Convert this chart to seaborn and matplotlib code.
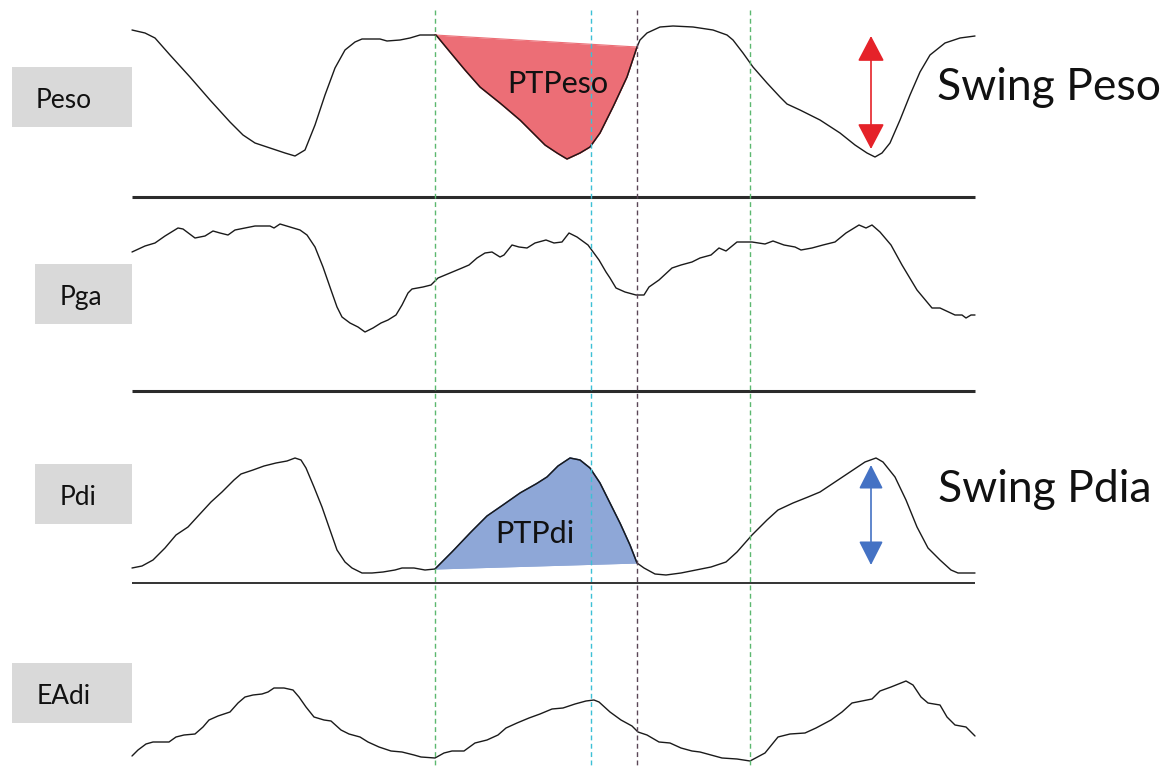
import matplotlib.pyplot as plt
import matplotlib.patches as mpatches
import seaborn as sns
import numpy as np
import pandas as pd

# ─────────────────────────────────────────
# Traces (time in px, pressure in px, y downward)
# ─────────────────────────────────────────
peso_trace = [(132, 30), (145, 33), (155, 38), (170, 55), (190, 77), (210, 100), (230, 122),
              (243, 135), (255, 143), (270, 148), (285, 153), (295, 156), (305, 150), (315, 125),
              (325, 95), (335, 68), (345, 50), (355, 42), (362, 39), (380, 39), (387, 41),
              (400, 40), (410, 38), (420, 35), (436, 35), (450, 52), (465, 70), (480, 87),
              (500, 103), (520, 120), (533, 133), (545, 145), (557, 153), (567, 159), (580, 153),
              (590, 147), (600, 133), (613, 107), (627, 77), (637, 47), (640, 40), (647, 33),
              (660, 27), (673, 26), (693, 27), (713, 30), (727, 35), (733, 40), (743, 53),
              (753, 67), (767, 83), (780, 97), (787, 104), (800, 110), (820, 120), (840, 133),
              (855, 145), (867, 153), (875, 157), (882, 153), (890, 143), (900, 120), (910, 95),
              (920, 72), (930, 55), (945, 43), (960, 38), (975, 36)]

pga_trace = [(132, 252), (145, 246), (155, 243), (165, 236), (178, 228), (183, 229), (195, 238),
             (205, 236), (213, 231), (220, 233), (228, 235), (235, 230), (245, 228), (255, 226),
             (270, 226), (274, 228), (280, 224), (290, 227), (300, 230), (307, 235), (315, 247),
             (323, 267), (331, 290), (337, 307), (342, 317), (350, 323), (358, 327), (365, 332),
             (373, 328), (381, 323), (388, 320), (396, 315), (402, 305), (408, 293), (412, 289),
             (423, 287), (431, 285), (438, 278), (450, 273), (462, 268), (469, 265), (477, 258),
             (485, 253), (492, 252), (500, 257), (504, 255), (512, 245), (519, 247), (527, 248),
             (535, 243), (546, 240), (554, 243), (562, 242), (569, 233), (577, 237), (588, 245),
             (599, 260), (606, 272), (610, 278), (616, 288), (625, 292), (636, 295), (644, 295),
             (649, 287), (659, 280), (672, 268), (681, 265), (692, 262), (700, 258), (711, 255),
             (719, 248), (726, 251), (737, 242), (752, 242), (765, 244), (773, 241), (784, 245),
             (795, 247), (801, 250), (812, 248), (823, 245), (835, 242), (846, 233), (859, 225),
             (866, 228), (872, 225), (880, 232), (891, 245), (902, 265), (917, 290), (932, 308),
             (940, 308), (955, 315), (962, 315), (966, 318), (971, 315), (975, 315)]

pdi_trace = [(132, 568), (142, 566), (153, 560), (165, 548), (176, 535), (188, 527), (199, 515),
             (211, 502), (222, 492), (234, 480), (241, 474), (253, 470), (264, 466), (276, 463),
             (287, 461), (295, 458), (301, 460), (306, 468), (314, 487), (322, 507), (330, 530),
             (337, 550), (345, 562), (352, 568), (362, 573), (372, 573), (383, 572), (395, 570),
             (402, 568), (414, 568), (425, 570), (435, 569), (452, 552), (470, 533), (487, 516),
             (503, 505), (520, 493), (536, 484), (547, 477), (558, 466), (570, 458), (580, 460),
             (590, 468), (600, 483), (610, 503), (620, 523), (630, 545), (637, 563), (644, 568),
             (655, 574), (666, 575), (681, 573), (696, 570), (711, 567), (726, 562), (737, 552),
             (752, 535), (767, 520), (778, 510), (793, 503), (808, 497), (820, 492), (835, 482),
             (850, 472), (865, 462), (876, 458), (883, 462), (895, 477), (906, 500), (917, 527),
             (928, 548), (940, 560), (951, 570), (958, 573), (975, 573)]

eadi_trace = [(132, 756), (138, 750), (146, 744), (153, 742), (169, 742), (176, 737), (184, 735),
              (195, 734), (203, 727), (209, 720), (218, 716), (230, 712), (238, 703), (245, 697),
              (253, 695), (262, 694), (268, 692), (274, 688), (284, 688), (293, 690), (299, 697),
              (306, 707), (314, 717), (324, 720), (331, 721), (341, 730), (349, 734), (360, 737),
              (368, 742), (379, 747), (391, 751), (402, 752), (414, 755), (421, 757), (435, 758),
              (444, 753), (452, 751), (464, 751), (475, 743), (487, 740), (498, 735), (506, 728),
              (517, 723), (529, 718), (540, 714), (552, 709), (563, 708), (575, 704), (586, 701),
              (594, 700), (599, 702), (610, 712), (621, 720), (632, 726), (638, 732), (647, 735),
              (659, 742), (670, 743), (681, 748), (692, 751), (700, 752), (711, 755), (722, 758),
              (737, 759), (750, 761), (765, 753), (778, 737), (790, 734), (805, 733), (816, 728),
              (831, 720), (842, 712), (852, 703), (872, 699), (880, 691), (891, 687), (906, 681),
              (913, 685), (921, 697), (928, 703), (940, 705), (947, 717), (955, 725), (966, 727),
              (975, 736)]

channels = ["Peso", "Pga", "Pdi", "EAdi"]
channel_box_top = [67, 264, 464, 663]
channel_box_left = [12, 35, 35, 12]
channel_text_left = [36, 60, 60, 37]
separators_y = [197, 391, 583]

# cursors (vertical dashed lines)
cursor_t = [435, 591, 637, 750]
cursor_colors = ["#5cb870", "#3cc0d6", "#5a4656", "#5cb870"]

# PTP integration window and swing arrows
ptp_window = (435, 637)
swing_t = 871
swing_peso = (36, 149)
swing_pdi = (465, 565)

# ─────────────────────────────────────────
sns.set_theme(style="white")
plt.rcParams["font.family"] = ["Lato", "DejaVu Sans"]

fig = plt.figure(figsize=(11.67, 7.66), dpi=100)
ax = fig.add_axes([0, 0, 1, 1])
ax.set_xlim(0, 1167)
ax.set_ylim(766, 0)
ax.axis("off")


def ptp_fill(trace, face, edge):
    # aire entre la trace et la corde de la fenetre PTP
    t = np.array([p[0] for p in trace], float)
    y = np.array([p[1] for p in trace], float)
    xs = np.linspace(ptp_window[0], ptp_window[1], 300)
    ys = np.interp(xs, t, y)
    chord = np.interp(xs, [xs[0], xs[-1]], [ys[0], ys[-1]])
    ax.fill_between(xs, ys, chord, color=face, lw=0, zorder=2)
    ax.plot(xs, ys, color=edge, lw=1.1, zorder=3)
    ax.plot([xs[0], xs[-1]], [ys[0], ys[-1]], color=face, lw=0.8, zorder=3)


ptp_fill(peso_trace, "#ec6e76", "#cf2a33")
ptp_fill(pdi_trace, "#8ea7d7", "#2e4f8e")

# Traces
for name, tr in zip(channels, [peso_trace, pga_trace, pdi_trace, eadi_trace]):
    df = pd.DataFrame(tr, columns=["t", "v"])
    sns.lineplot(data=df, x="t", y="v", ax=ax, color="#1a1a1a", lw=1.0,
                 sort=False, estimator=None, zorder=4,
                 solid_joinstyle="round", solid_capstyle="round")

# separators
for i, sy in enumerate(separators_y):
    ax.hlines(sy, 132, 975, colors="#2b2b2b" if i < 2 else "#111111",
              linewidth=2.2 if i < 2 else 1.2, zorder=1)

# cursors
for ct, cc in zip(cursor_t, cursor_colors):
    ax.vlines(ct, 10, 766, colors=cc, linestyles=(0, (3.5, 2.5)), linewidth=1.0, zorder=5)

# channel boxes
for name, top, left, tx in zip(channels, channel_box_top, channel_box_left, channel_text_left):
    ax.add_patch(mpatches.Rectangle((left, top), 132 - left, 60, facecolor="#d9d9d9",
                                    edgecolor="none", zorder=1))
    ax.text(tx, top + 41, name, fontsize=19, ha="left", va="baseline",
            color="#111111", zorder=6)

# swing arrows
ax.annotate("", xy=(swing_t, swing_peso[0]), xytext=(swing_t, swing_peso[1]),
            arrowprops=dict(arrowstyle="<|-|>,head_length=0.8,head_width=0.42",
                            mutation_scale=20, color="#e52229", lw=1.2,
                            shrinkA=0, shrinkB=0), zorder=6)
ax.annotate("", xy=(swing_t, swing_pdi[0]), xytext=(swing_t, swing_pdi[1]),
            arrowprops=dict(arrowstyle="<|-|>,head_length=0.75,head_width=0.38",
                            mutation_scale=20, color="#4472c4", lw=1.2,
                            shrinkA=0, shrinkB=0), zorder=6)

# annotations
ax.text(507, 93, "PTPeso", fontsize=22, ha="left", va="baseline", color="#111111", zorder=6)
ax.text(495, 543, "PTPdi", fontsize=22, ha="left", va="baseline", color="#111111", zorder=6)
ax.text(937, 100, "Swing Peso", fontsize=32, ha="left", va="baseline", color="#111111")
ax.text(938, 502, "Swing Pdia", fontsize=32, ha="left", va="baseline", color="#111111")

fig.savefig("out.png", dpi=100)
